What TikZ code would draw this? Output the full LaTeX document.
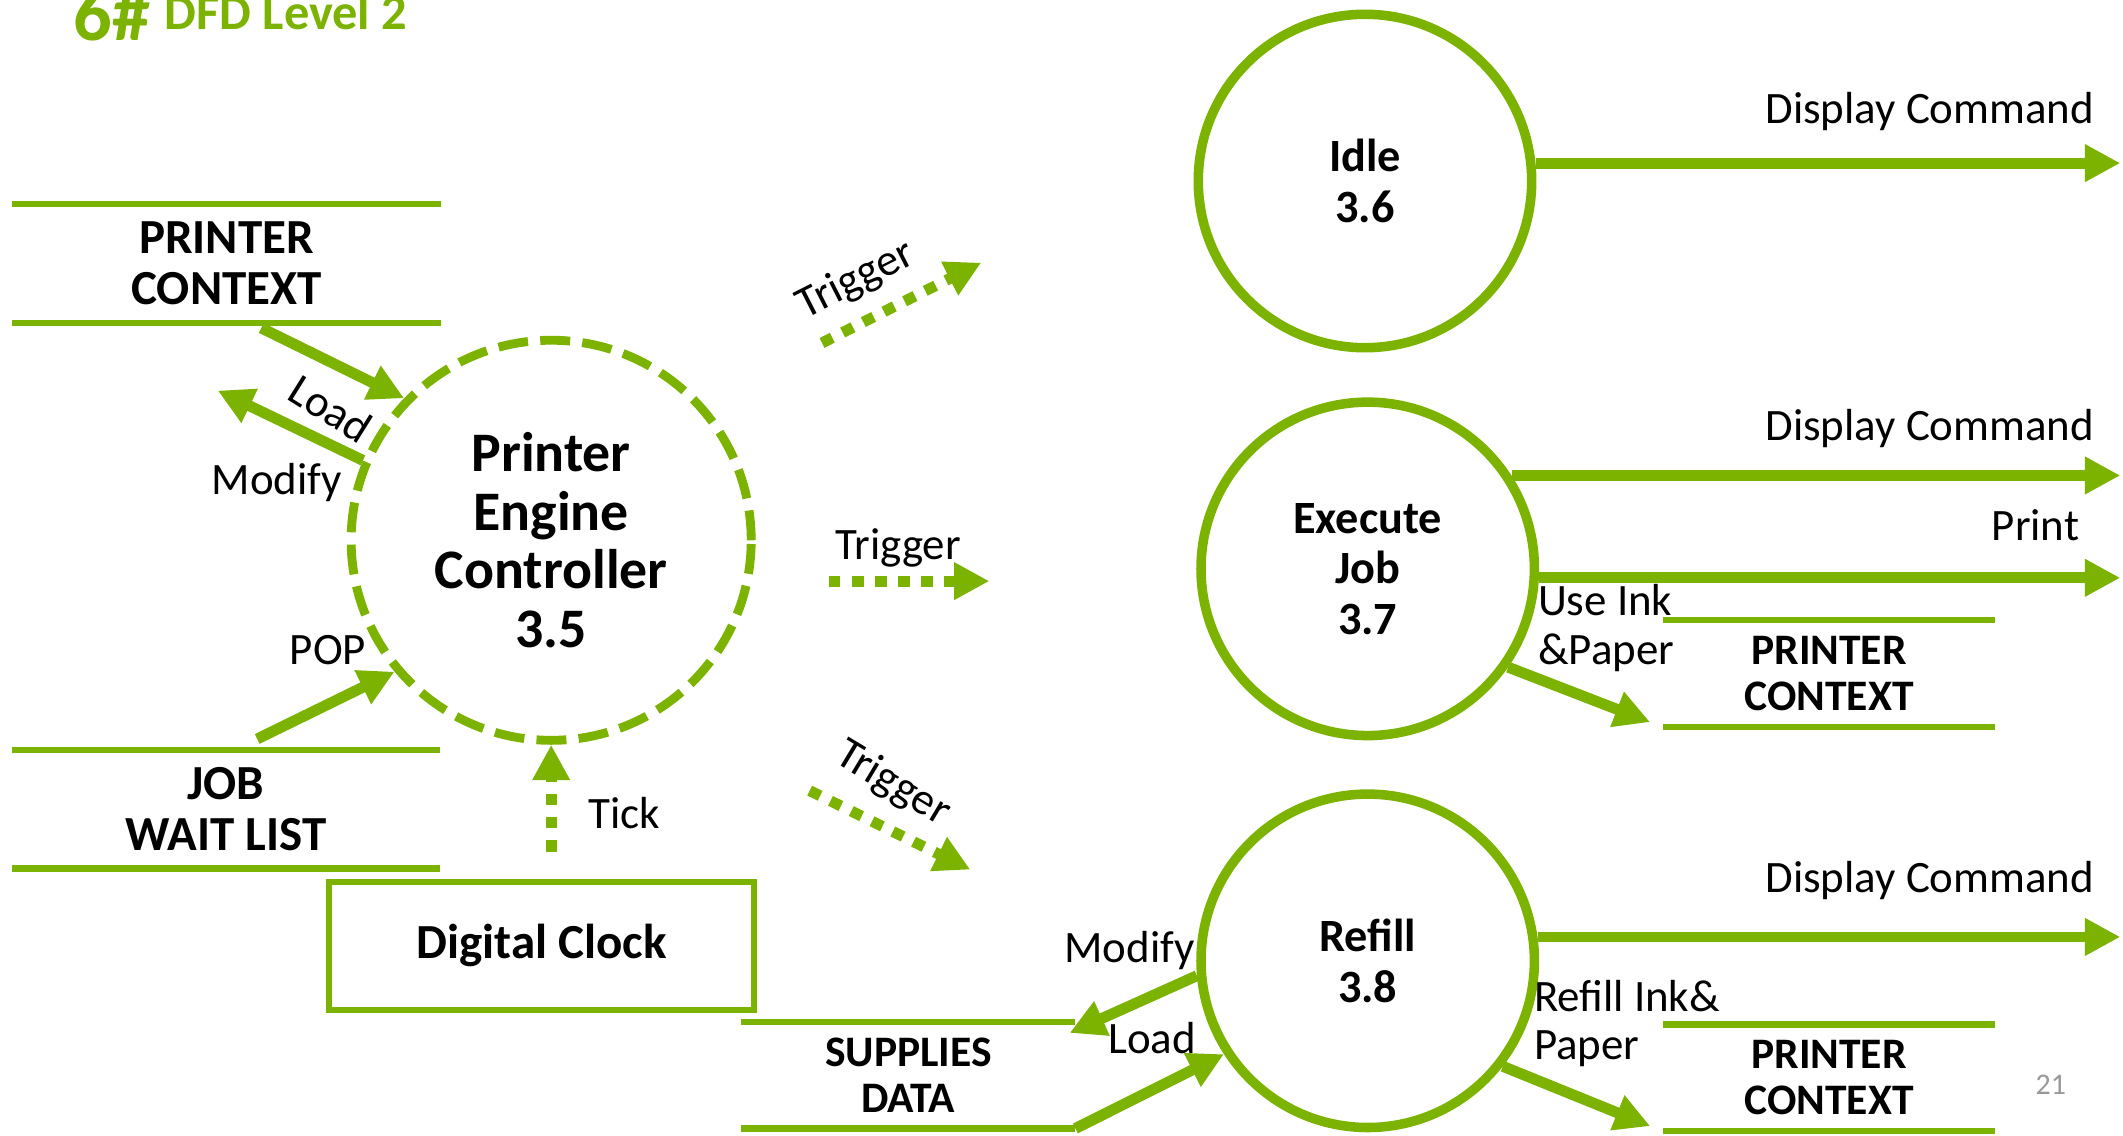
\documentclass[tikz,border=0pt]{standalone}
\usepackage{fontspec}
\setmainfont{Carlito}
\usetikzlibrary{arrows.meta}
\definecolor{dfdgreen}{RGB}{124,178,0}
\newcommand\lblfont{\fontsize{33}{36}\selectfont}
\newcommand\procfont{\fontsize{34}{37}\selectfont\bfseries}
\newcommand\bigfont{\fontsize{41}{43}\selectfont\bfseries}
\newcommand\storefont{\fontsize{36}{37}\selectfont\bfseries}
\newcommand\smallstore{\fontsize{32}{34}\selectfont\bfseries}
\tikzset{
  proc/.style={circle, draw=dfdgreen, line width=7pt, minimum size=245pt, inner sep=0pt, align=center, font=\procfont},
  store/.style={inner sep=0pt, align=center},
  storeline/.style={dfdgreen, line width=4.5pt},
  flow/.style={dfdgreen, line width=8pt, -{Triangle[length=26pt,width=26pt]}},
  trig/.style={flow, dash pattern=on 8.5pt off 8.5pt},
  lbl/.style={inner sep=0pt, font=\lblfont},
}
\begin{document}
\begin{tikzpicture}[x=1pt, y=-1pt]
\useasboundingbox (0,0) rectangle (1560,834.7);
\node[anchor=base west, inner sep=0pt, text=dfdgreen, font=\fontsize{56}{56}\selectfont\bfseries] (num) at (54,29.4) {6\#};
\node[anchor=base west, inner sep=0pt, text=dfdgreen, font=\fontsize{37}{37}\selectfont\bfseries] (title) at (121,22) {DFD Level 2};
\node[proc, dash pattern=on 22pt off 9pt, line width=6.5pt, minimum size=294pt, font=\bigfont] (pec) at (405,397) {Printer\\Engine\\Controller\\3.5};
\node[proc] (idle) at (1003,133) {Idle\\3.6};
\node[proc] (exec) at (1005,418) {Execute\\Job\\3.7};
\node[proc] (refill) at (1005,706) {Refill\\3.8};
\node[draw=dfdgreen, line width=4.5pt, minimum width=312pt, minimum height=94pt, inner sep=0pt, font=\storefont] (clock) at (398,695) {Digital Clock};
\node[store, minimum width=315pt, minimum height=87pt, font=\storefont] (pcA) at (166.5,193.5) {PRINTER\\CONTEXT};
\node[store, minimum width=314pt, minimum height=87pt, font=\storefont] (jwl) at (166,594.5) {JOB\\WAIT LIST};
\node[store, minimum width=244pt, minimum height=78pt, font=\smallstore] (pcB) at (1344,495) {PRINTER\\CONTEXT};
\node[store, minimum width=244pt, minimum height=78pt, font=\smallstore] (pcC) at (1344,792) {PRINTER\\CONTEXT};
\node[store, minimum width=245pt, minimum height=78pt, font=\smallstore] (sup) at (667.5,790) {SUPPLIES\\DATA};
\foreach \s in {pcA,jwl,pcB,pcC,sup}
  \draw[storeline] (\s.north west) -- (\s.north east) (\s.south west) -- (\s.south east);
\coordinate (rim) at (1558,0);
\coordinate (loadA) at (192,241);
\coordinate (modA) at (160,287);
\coordinate (popA) at (189,543);
\coordinate (trA1) at (604,252);
\coordinate (trA2) at (721,193);
\coordinate (trB1) at (609,427);
\coordinate (trB2) at (727,427);
\coordinate (trC1) at (595,581);
\coordinate (trC2) at (713,639);
\coordinate (modB) at (786,759);
\draw[flow] (loadA) -- (pec.136);
\draw[flow] (pec.157) -- (modA);
\draw[flow] (popA) -- (pec.220);
\draw[trig, shorten <=20pt] (clock.north -| pec.south) -- (pec.south);
\draw[trig] (trA1) -- (trA2);
\draw[trig] (trB1) -- (trB2);
\draw[trig] (trC1) -- (trC2);
\draw[flow] (idle.6) -- (idle.6 -| rim);
\draw[flow] (exec.33) -- (exec.33 -| rim);
\draw[flow] (exec.-3) -- (exec.-3 -| rim);
\draw[flow] (refill.8) -- (refill.8 -| rim);
\draw[flow, shorten >=10pt] (exec.-35) -- (pcB.south west);
\draw[flow, shorten >=10pt] (refill.-38) -- (pcC.south west);
\draw[flow] (refill.185) -- (modB);
\draw[flow] (sup.south east) -- (refill.213);
\node[lbl, rotate=-32] (loadlblA) at (243,300) {Load};
\node[lbl, anchor=base] (modlblA) at (203.5,363.7) {Modify};
\node[lbl, anchor=base] (poplbl) at (241,488.6) {POP};
\node[lbl, anchor=base west] (ticklbl) at (432,608.5) {Tick};
\node[lbl, rotate=27] (trlblA) at (629,206) {Trigger};
\node[lbl, anchor=base] (trlblB) at (660,411) {Trigger};
\node[lbl, rotate=-31] (trlblC) at (656,576) {Trigger};
\node[lbl, anchor=base east] (dispA) at (1539,90.7) {Display Command};
\node[lbl, anchor=base east] (dispB) at (1539,323.5) {Display Command};
\node[lbl, anchor=base east] (dispC) at (1539,655.6) {Display Command};
\node[lbl, anchor=base east] (printlbl) at (1528,397) {Print};
\node[lbl, anchor=base west] (uselblA) at (1130,452.6) {Use Ink};
\node[lbl, anchor=base west] (uselblB) at (1130,488) {\&Paper};
\node[lbl, anchor=base west] (reflblA) at (1127,743) {Refill Ink\&};
\node[lbl, anchor=base west] (reflblB) at (1127,778.5) {Paper};
\node[lbl, anchor=base east] (modlblB) at (878,707) {Modify};
\node[lbl, anchor=base east] (loadlblB) at (879,774) {Load};
\node[anchor=base, inner sep=0pt, text=gray!80, font=\fontsize{22}{22}\selectfont] (pagenum) at (1507,804.6) {21};
\end{tikzpicture}
\end{document}
